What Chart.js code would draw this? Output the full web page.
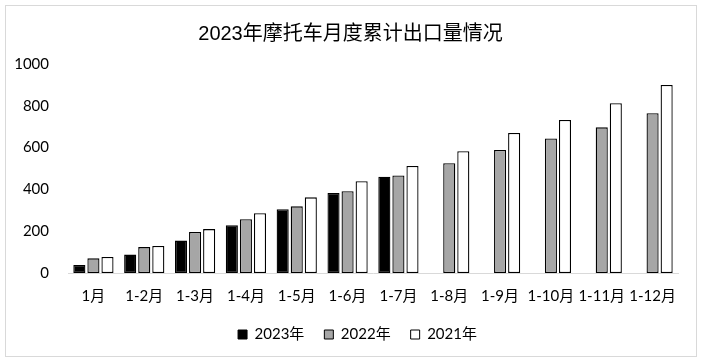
<!DOCTYPE html>
<html>
<head>
<meta charset="utf-8">
<script src="https://cdn.jsdelivr.net/npm/chart.js@4"></script>
<style>
html,body{margin:0;padding:0;background:#fff;}
#wrap{width:703px;height:362px;position:relative;}
</style>
</head>
<body>
<div id="wrap"><canvas id="c" width="703" height="362"></canvas></div>
<script>
const categories = ['1月','1-2月','1-3月','1-4月','1-5月','1-6月','1-7月','1-8月','1-9月','1-10月','1-11月','1-12月'];
const values2023 = [38, 88, 155, 228, 305, 383, 461, null, null, null, null, null];
const values2022 = [70, 124, 196, 257, 319, 391, 467, 525, 589, 644, 697, 764];
const values2021 = [77, 129, 210, 286, 362, 439, 512, 583, 670, 732, 812, 900];
const yTicks = [0, 200, 400, 600, 800, 1000];

const tickFont = {family: "Lato, 'Noto Sans CJK SC', sans-serif", size: 15};

const frame = {
  id: 'frame',
  beforeDraw(chart) {
    const ctx = chart.ctx;
    ctx.save();
    ctx.fillStyle = '#fff';
    ctx.fillRect(0, 0, chart.width, chart.height);
    ctx.strokeStyle = '#d9d9d9';
    ctx.lineWidth = 1;
    ctx.strokeRect(5.5, 5.5, 691, 351);
    ctx.restore();
  },
  afterLayout(chart) {
    if (chart.titleBlock) { chart.titleBlock.left += 18; }
    if (chart.legend) { chart.legend.left += 32; }
  }
};

new Chart(document.getElementById('c'), {
  type: 'bar',
  data: {
    labels: categories,
    datasets: [
      {label: '2023年', data: values2023, backgroundColor: '#000000', borderColor: '#000000', borderWidth: 1.3},
      {label: '2022年', data: values2022, backgroundColor: '#a6a6a6', borderColor: '#000000', borderWidth: 1.3},
      {label: '2021年', data: values2021, backgroundColor: '#ffffff', borderColor: '#000000', borderWidth: 1.3}
    ]
  },
  options: {
    responsive: false,
    animation: false,
    devicePixelRatio: 1,
    layout: {padding: {left: 5, right: 25, top: 0, bottom: 10}},
    datasets: {bar: {categoryPercentage: 0.83, barPercentage: 0.86, borderSkipped: false}},
    plugins: {
      title: {
        display: true,
        text: '2023年摩托车月度累计出口量情况',
        color: '#000',
        font: {family: "'Liberation Sans', 'Noto Sans CJK SC', sans-serif", size: 20, weight: 'normal'},
        padding: {top: 22, bottom: 18}
      },
      legend: {
        position: 'bottom',
        labels: {
          color: '#000',
          font: tickFont,
          boxWidth: 9,
          boxHeight: 9,
          padding: 20,
          generateLabels(chart) {
            return chart.data.datasets.map((ds, i) => ({
              text: ds.label,
              fillStyle: ds.backgroundColor,
              strokeStyle: '#000',
              lineWidth: 1,
              datasetIndex: i,
              fontColor: '#000'
            }));
          }
        }
      },
      tooltip: {enabled: false}
    },
    scales: {
      x: {
        afterFit(axis) { axis.height -= 12; },
        grid: {display: false, drawTicks: false},
        border: {display: true, color: '#d9d9d9', width: 1},
        ticks: {color: '#000', font: tickFont, padding: 14, maxRotation: 0, autoSkip: false}
      },
      y: {
        min: 0, max: 1000,
        afterBuildTicks(axis) { axis.ticks = yTicks.map(v => ({value: v})); },
        afterFit(axis) { axis.width = 63; },
        grid: {display: false, drawTicks: false},
        border: {display: false},
        ticks: {color: '#000', font: tickFont, padding: 19, callback: v => String(v)}
      }
    }
  },
  plugins: [frame]
});
</script>
</body>
</html>
